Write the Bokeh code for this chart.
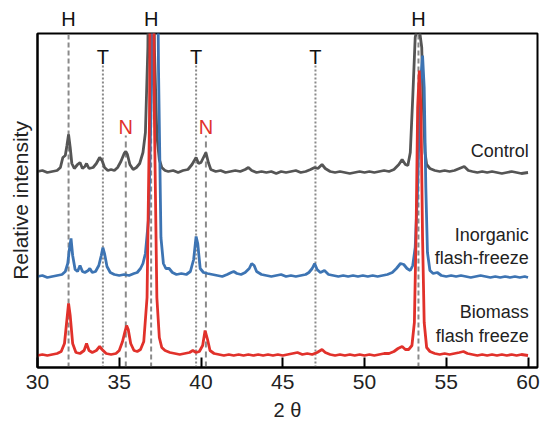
from bokeh.plotting import figure
from bokeh.models import Range1d, Label, FixedTicker, LinearAxis
from bokeh.embed import file_html
from bokeh.resources import INLINE

# ---- data (2theta, relative intensity in arbitrary units) ----
ctrl_x = [30.0, 30.3, 30.6, 30.9, 31.2, 31.4, 31.55, 31.7, 31.8, 31.9, 32.0, 32.1, 32.25, 32.45, 32.6, 32.75,
          32.9, 33.0, 33.15, 33.4, 33.6, 33.8, 33.95, 34.1, 34.3, 34.5, 34.7, 34.9, 35.1, 35.3, 35.4, 35.5,
          35.65, 35.85, 36.05, 36.25, 36.45, 36.6, 36.75, 36.95, 37.15, 37.3, 37.45, 37.6, 37.8, 38.0, 38.3,
          38.6, 38.9, 39.2, 39.45, 39.7, 39.85, 40.0, 40.15, 40.3, 40.45, 40.6, 40.9, 41.2, 41.5, 41.8, 42.1,
          42.4, 42.7, 42.9, 43.1, 43.4, 43.7, 44.0, 44.3, 44.6, 44.9, 45.2, 45.5, 45.8, 46.1, 46.4, 46.7,
          46.95, 47.15, 47.4, 47.6, 47.9, 48.2, 48.5, 48.8, 49.1, 49.4, 49.7, 50.0, 50.3, 50.6, 50.9, 51.2,
          51.5, 51.8, 52.1, 52.3, 52.5, 52.65, 52.8, 52.95, 53.1, 53.3, 53.5, 53.6, 53.7, 53.8, 54.0, 54.3,
          54.6, 54.9, 55.2, 55.5, 55.8, 56.1, 56.35, 56.6, 56.9, 57.2, 57.5, 57.8, 58.1, 58.4, 58.7, 59.0,
          59.3, 59.6, 60.0]
ctrl_y = [196, 197, 195, 196, 197, 200, 210, 212, 222, 233, 220, 204, 199, 203, 205, 199,
          201, 204, 199, 200, 204, 210, 207, 200, 197, 198, 197, 200, 206, 214, 216, 213,
          203, 198, 200, 204, 215, 235, 320, 700, 320, 232, 208, 200, 197, 196, 197,
          195, 197, 198, 203, 210, 204, 205, 210, 215, 205, 198, 196, 197, 195, 196, 197,
          196, 198, 200, 197, 195, 196, 195, 196, 194, 196, 195, 196, 197, 195, 196, 198,
          200, 199, 203, 199, 196, 195, 196, 195, 194, 195, 196, 195, 196, 195, 196, 197,
          196, 198, 203, 208, 203, 202, 215, 270, 330, 345, 320, 260, 215, 203, 199, 197,
          196, 197, 196, 197, 199, 201, 197, 196, 195, 196, 195, 196, 195, 194, 195, 196,
          195, 194, 195]

inorg_x = [30.0, 30.3, 30.6, 30.9, 31.2, 31.5, 31.7, 31.85, 31.95, 32.05, 32.15, 32.3, 32.45, 32.6, 32.75,
           32.9, 33.1, 33.2, 33.35, 33.55, 33.75, 33.9, 34.0, 34.1, 34.25, 34.45, 34.7, 35.0, 35.3, 35.6,
           35.9, 36.1, 36.3, 36.45, 36.6, 36.8, 37.0, 37.2, 37.4, 37.55, 37.7, 37.85, 38.05, 38.25, 38.5,
           38.8, 39.1, 39.35, 39.55, 39.7, 39.8, 39.95, 40.15, 40.4, 40.7, 41.0, 41.3, 41.6, 41.85, 42.0,
           42.2, 42.45, 42.7, 42.95, 43.1, 43.25, 43.4, 43.7, 44.0, 44.3, 44.6, 44.9, 45.2, 45.5, 45.8,
           46.1, 46.4, 46.6, 46.8, 46.95, 47.1, 47.3, 47.55, 47.8, 48.1, 48.4, 48.7, 49.0, 49.3, 49.6,
           49.9, 50.2, 50.5, 50.8, 51.1, 51.4, 51.7, 51.95, 52.2, 52.4, 52.6, 52.8, 52.95, 53.1, 53.25,
           53.4, 53.55, 53.65, 53.75, 53.85, 54.0, 54.2, 54.45, 54.7, 55.0, 55.3, 55.6, 55.9, 56.2, 56.5,
           56.8, 57.1, 57.4, 57.7, 58.0, 58.3, 58.6, 58.9, 59.2, 59.5, 59.8, 60.0]
inorg_y = [91, 92, 90, 91, 92, 93, 96, 104, 118, 129, 112, 98, 96, 102, 96,
           95, 97, 99, 95, 96, 102, 112, 120, 114, 101, 95, 93, 92, 93, 92,
           94, 95, 99, 104, 114, 150, 300, 700, 300, 130, 104, 99, 99, 95, 93,
           94, 93, 96, 108, 131, 124, 99, 95, 94, 93, 92, 91, 93, 95, 96,
           94, 93, 95, 99, 104, 102, 96, 93, 92, 91, 92, 93, 91, 92, 91,
           92, 93, 95, 99, 104, 98, 95, 97, 93, 92, 91, 92, 91, 92, 91,
           92, 91, 92, 91, 92, 93, 95, 99, 104, 103, 99, 97, 102, 120, 180,
           280, 312, 280, 180, 115, 97, 94, 95, 92, 91, 92, 91, 92, 91, 90,
           91, 92, 91, 90, 91, 90, 91, 90, 91, 90, 91, 90]

bio_x = [30.0, 30.3, 30.6, 30.9, 31.2, 31.45, 31.65, 31.8, 31.9, 32.0, 32.15, 32.35, 32.6, 32.85, 33.0,
         33.15, 33.35, 33.6, 33.8, 33.95, 34.2, 34.5, 34.8, 35.0, 35.2, 35.35, 35.45, 35.55, 35.7, 35.9,
         36.1, 36.3, 36.5, 36.7, 36.85, 37.0, 37.15, 37.3, 37.45, 37.6, 37.8, 38.1, 38.4, 38.7, 39.0,
         39.3, 39.5, 39.7, 39.9, 40.1, 40.25, 40.4, 40.55, 40.8, 41.1, 41.4, 41.7, 42.0, 42.3, 42.6,
         42.9, 43.2, 43.5, 43.8, 44.1, 44.4, 44.7, 45.0, 45.3, 45.6, 45.9, 46.2, 46.5, 46.8, 47.1,
         47.4, 47.6, 47.9, 48.2, 48.5, 48.8, 49.1, 49.4, 49.7, 50.0, 50.3, 50.6, 50.9, 51.2, 51.5,
         51.8, 52.05, 52.3, 52.5, 52.7, 52.9, 53.05, 53.15, 53.25, 53.35, 53.45, 53.55, 53.65, 53.8, 54.0,
         54.3, 54.6, 54.9, 55.2, 55.5, 55.8, 56.05, 56.3, 56.6, 56.9, 57.2, 57.5, 57.8, 58.1, 58.4,
         58.7, 59.0, 59.3, 59.6, 60.0]
bio_y = [12, 13, 12, 13, 14, 16, 24, 48, 64, 52, 24, 15, 14, 17, 24,
         17, 15, 17, 21, 18, 14, 13, 14, 17, 26, 36, 42, 38, 24, 17,
         16, 18, 26, 70, 250, 700, 250, 70, 30, 20, 17, 15, 14, 13, 14,
         15, 17, 15, 16, 22, 37, 28, 17, 14, 13, 12, 13, 12, 13, 12,
         13, 12, 13, 12, 13, 12, 13, 12, 13, 14, 15, 13, 14, 13, 15,
         18, 15, 13, 12, 13, 12, 13, 12, 13, 12, 13, 12, 13, 14, 14,
         16, 19, 21, 18, 18, 22, 45, 130, 260, 297, 260, 130, 45, 20, 16,
         14, 13, 14, 13, 14, 15, 16, 14, 13, 12, 13, 12, 13, 12, 13,
         12, 13, 12, 13, 12]

h_pos = [31.9, 36.95, 53.3]
t_pos = [34.0, 39.7, 47.0]
n_pos = [35.4, 40.3]
x_ticks = [30, 35, 40, 45, 50, 55, 60]

FONT = "Liberation Sans"
GRAY = "#555555"
BLUE = "#3d74b3"
RED = "#e1312b"
REF = "#8a8a8a"

p = figure(width=543, height=434, output_backend="svg", toolbar_location=None,
           x_range=Range1d(30, 60.58), y_range=Range1d(0, 334),
           min_border_left=37, min_border_right=6, min_border_top=33, min_border_bottom=67)
p.background_fill_color = "white"
p.border_fill_color = "white"
p.outline_line_color = "black"
p.outline_line_width = 2
p.xgrid.visible = False
p.ygrid.visible = False

# reference lines
p.segment(x0=h_pos, x1=h_pos, y0=[0] * len(h_pos), y1=[334] * len(h_pos),
          line_color=REF, line_width=2, line_dash="5 3")
p.segment(x0=t_pos, x1=t_pos, y0=[0] * len(t_pos), y1=[302] * len(t_pos),
          line_color=REF, line_width=2, line_dash="2 2")
p.segment(x0=n_pos, x1=n_pos, y0=[0] * len(n_pos), y1=[232] * len(n_pos),
          line_color=REF, line_width=2, line_dash="6 4")

# traces
p.line(ctrl_x, ctrl_y, line_color=GRAY, line_width=2.8)
p.line(inorg_x, inorg_y, line_color=BLUE, line_width=2.8)
p.line(bio_x, bio_y, line_color=RED, line_width=2.8)

# bottom axis
xa = p.below[0]
xa.ticker = FixedTicker(ticks=x_ticks)
xa.major_tick_in = 10
xa.major_tick_out = 0
xa.minor_tick_in = 0
xa.minor_tick_out = 0
xa.major_tick_line_width = 2
xa.major_tick_line_color = "black"
xa.axis_line_width = 2
xa.axis_line_color = "black"
xa.major_label_text_font = FONT
xa.major_label_text_font_size = "21px"
xa.major_label_text_color = "#222222"
xa.major_label_standoff = 7
xa.axis_label = "2 θ"
xa.axis_label_text_font = FONT
xa.axis_label_text_font_size = "20px"
xa.axis_label_text_font_style = "normal"
xa.axis_label_text_color = "#222222"
xa.axis_label_standoff = 7

# left axis
ya = p.left[0]
ya.ticker = FixedTicker(ticks=[])
ya.major_tick_in = 0
ya.major_tick_out = 0
ya.minor_tick_in = 0
ya.minor_tick_out = 0
ya.major_label_text_font_size = "0px"
ya.axis_line_width = 2
ya.axis_line_color = "black"
ya.axis_label = "Relative intensity"
ya.axis_label_text_font = FONT
ya.axis_label_text_font_size = "21px"
ya.axis_label_text_font_style = "normal"
ya.axis_label_text_color = "#222222"
ya.axis_label_standoff = 6

# H labels above the frame, as an extra top axis
top = LinearAxis(ticker=FixedTicker(ticks=h_pos),
                 major_label_overrides={v: "H" for v in h_pos})
top.axis_line_color = None
top.major_tick_line_color = None
top.minor_tick_line_color = None
top.major_tick_in = 0
top.major_tick_out = 0
top.minor_tick_in = 0
top.minor_tick_out = 0
top.major_label_standoff = 4
top.major_label_text_font = FONT
top.major_label_text_font_size = "20px"
top.major_label_text_color = "#111111"
p.add_layout(top, "above")

# T and N labels inside the frame
for xv in t_pos:
    p.add_layout(Label(x=xv, y=311, text="T", text_align="center", text_baseline="alphabetic",
                       text_font=FONT, text_font_size="20px", text_color="#111111"))
for xv in n_pos:
    p.add_layout(Label(x=xv, y=241, text="N", text_align="center", text_baseline="alphabetic",
                       text_font=FONT, text_font_size="20px", text_color=RED))

# series labels
series_labels = [("Control", 217), ("Inorganic", 133), ("flash-freeze", 110),
                 ("Biomass", 56), ("flash freeze", 32)]
for txt, yv in series_labels:
    p.add_layout(Label(x=60.05, y=yv, text=txt, text_align="right", text_baseline="alphabetic",
                       text_font=FONT, text_font_size="18px", text_color="#222222"))

open("out.html", "w").write(file_html(p, INLINE))
